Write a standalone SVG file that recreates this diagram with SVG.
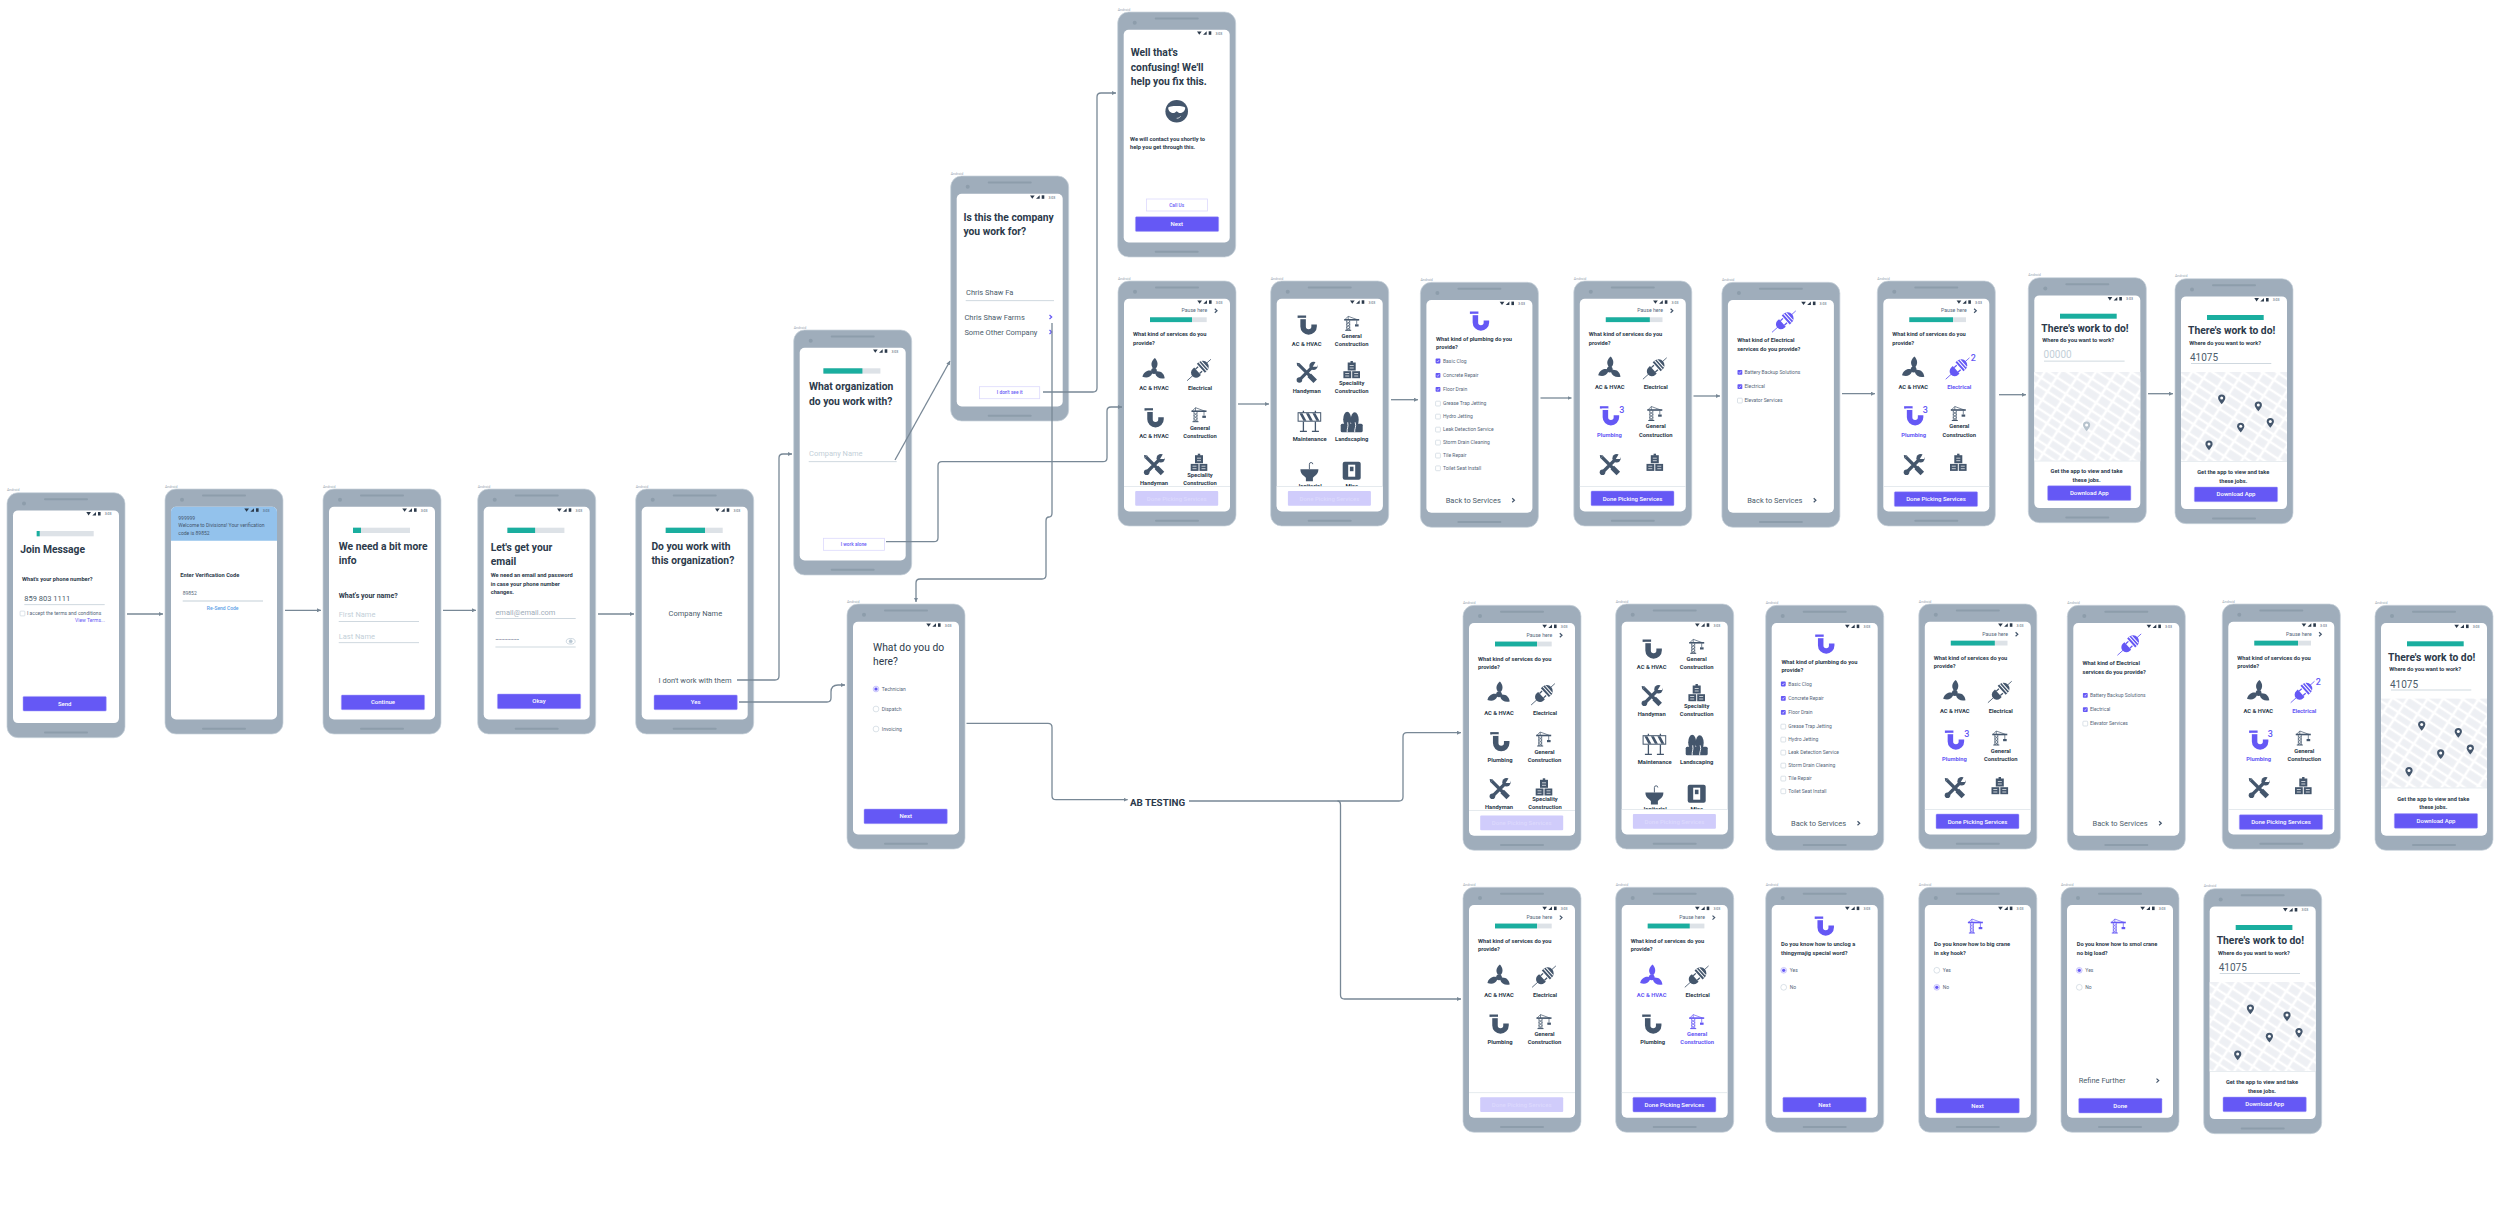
<svg xmlns="http://www.w3.org/2000/svg" width="2500" height="1206" viewBox="0 0 2500 1206">
<style>
text{font-family:Roboto,"Liberation Sans",sans-serif;fill:#2c3a4b}
.c{text-anchor:middle}
.an{font-size:3.6px;fill:#9aa8b4}
.tm{font-size:3.6px;fill:#44566c}
.t{font-size:10.3px;font-weight:700}
.q{font-size:5.7px;font-weight:700}
.l{font-size:5.8px;font-weight:700}
.lp{font-size:5.8px;font-weight:700;fill:#6558f5}
.i{font-size:7.5px;fill:#4b5c6b}
.ph{font-size:7.5px;fill:#c3cfd8}
.s{font-size:5px;fill:#56677a}
.sm{font-size:5.2px;fill:#56677a}
.lk{font-size:5px;fill:#6558f5}
.b{font-size:6px;font-weight:500;fill:#fff}
.bd{font-size:6px;font-weight:500;fill:#dcd9fd}
.o{font-size:4.8px;font-weight:500;fill:#6558f5}
.n{font-size:9px;font-weight:500;fill:#6558f5}
.bz{fill:#9fadbb;stroke:#c9d3db;stroke-width:.7}
.sp{fill:#8d9dab}
.bar{fill:#dde2e7}
.fil{fill:#1aae9f}
.ul{fill:#c3cfd8}
.btn{fill:#6558f5;stroke:#aaa4f9;stroke-width:.5}
.dis{fill:#d0ccfb}
.out{fill:#fff;stroke:#dcd9fd;stroke-width:.8}
.sep{fill:#fff}
.sl{fill:#dfe5ea}
.dk{color:#44566c}
.pu{color:#6558f5}
.cn{fill:none;stroke:#788896;stroke-width:1.3;marker-end:url(#ah)}
</style>
<defs>
<marker id="ah" markerUnits="userSpaceOnUse" markerWidth="4" markerHeight="4" refX="4" refY="2" orient="auto"><path d="M0,0L4,2L0,4Z" fill="#788896"/></marker>
<pattern id="roads" patternUnits="userSpaceOnUse" width="30" height="27" patternTransform="rotate(33)"><rect width="30" height="27" fill="#eef0f4"/><path d="M5,0V27M18,0V27M0,4H30M0,14H30M0,23H30" stroke="#fff" stroke-width="2.6"/></pattern>
<g id="frame"><rect class="bz" width="118" height="245" rx="11"/><rect class="sp" x="37" y="5.5" width="44" height="2" rx="1"/><rect class="sp" x="37" y="238.7" width="44" height="2" rx="1"/><circle class="sp" cx="17" cy="10.7" r="2"/><rect x="6" y="17.7" width="106" height="212.7" rx="5" fill="#fff"/></g>
<g id="st" fill="#2c3a4b"><path d="M79.3,19.4H84L81.6,22.8Z"/><path d="M85.3,22.8L89,19.3V22.8Z"/><rect x="91" y="19.3" width="2.6" height="3.5"/></g>
<path id="chev" d="M-1.2,-2L1,0L-1.2,2" fill="none" stroke="currentColor" stroke-width="1.2"/>
<g id="fan" fill="currentColor"><g transform="scale(1.12)"><circle r="2.6"/><path id="bl" d="M-1,-2.2C-3.4,-6-2.2,-9 .8,-11.5C3.6,-8.5 4,-4.8 1.4,-2Z"/><use href="#bl" transform="rotate(120)"/><use href="#bl" transform="rotate(240)"/></g></g>
<g id="plug" fill="currentColor"><g transform="rotate(-42)"><path d="M-16,0H-8M9,0H16" stroke="currentColor" stroke-width=".8"/><path d="M-2,-5V5H-4A5,5 0 0 1-4,-5Z"/><path d="M-2,-3H1.5M-2,3H1.5" stroke="currentColor" stroke-width="1.3"/><path d="M2.5,-6H5A6,6 0 0 1 5,6H2.5Z"/><path d="M5,-6V6M7.6,-5V5" stroke="#fff" stroke-width="1"/></g></g>
<g id="pipe"><path d="M-4,-6V1.5a5.5,5.5 0 0 0 11,0V-.5" fill="none" stroke="currentColor" stroke-width="5.5"/><rect x="-9.5" y="-9.5" width="8.5" height="2.4" fill="currentColor"/><rect x="-7.5" y="-7.1" width="6.5" height="1.3" fill="#fff"/></g>
<g id="crane" fill="none" stroke="currentColor" stroke-width=".7"><path d="M-5,-3V7M-2,-3V7M-5,-2L-2,1M-2,-2L-5,1M-5,1L-2,4M-2,1L-5,4M-5,4L-2,7M-2,4L-5,7"/><path d="M-6.5,7H-.5" stroke-width="1"/><path d="M-7.5,-3.5H7.5" stroke-width="1.6"/><path d="M-3.5,-3.5V-7M-3.5,-7L6,-3.5M-3.5,-7L-7,-3.5M5,-3V1"/><rect x="3.3" y="1" width="3.6" height="2.2" fill="currentColor" stroke="none"/></g>
<g id="tools" fill="currentColor" stroke="none"><path d="M-8,-8L8,8M7,-7L-7,7" stroke="currentColor" stroke-width="3.2"/><path d="M2.5,2.5L8.5,8.5" stroke="currentColor" stroke-width="5"/><path d="M-10,-10L-6.5,-9.5L-9.5,-6.5Z"/><circle cx="6.8" cy="-6.8" r="4.2"/><path d="M6,-6L9,-11H12L10.5,-6Z" fill="#fff"/><circle cx="-7.3" cy="7.3" r="2.8"/></g>
<g id="blocks" fill="currentColor"><rect x="-4" y="-7.5" width="8" height="8"/><rect x="-1.2" y="-9" width="2.4" height="2"/><rect x="-8.3" y="1.2" width="7.8" height="7"/><rect x=".5" y="1.2" width="7.8" height="7"/><path d="M-2,-4.5H2M-2,-2H2M-6.5,3.5H-2.5M-6.5,6H-2.5M2.5,3.5H6.5M2.5,6H6.5" stroke="#fff" stroke-width=".7"/></g>
<g id="barrier"><rect x="-11.3" y="-9" width="22.6" height="8.5" fill="#fff" stroke="currentColor" stroke-width="1"/><path d="M-10,-8.5h3l4,7.5h-3ZM-3.5,-8.5h3l4,7.5h-3ZM3,-8.5h3l4,7.5h-3Z" fill="currentColor"/><path d="M-6,0V9.5M6,0V9.5M-6,-9V-11M6,-9V-11" stroke="currentColor" stroke-width="1.3"/><path d="M-9.5,9.7H-2.5M2.5,9.7H9.5" stroke="currentColor" stroke-width="1.2"/></g>
<g id="land" fill="currentColor"><ellipse cx="-4.5" cy="-3" rx="4" ry="7.5"/><ellipse cx="3" cy="-2.5" rx="4" ry="7.5"/><rect x="-11" y="1.5" width="22" height="8.5" rx="1.5"/><path d="M-4.5,10C-5,6 -3,5 -4,0M3,10C2.5,6 5,5 3.5,0" fill="none" stroke="#fff" stroke-width=".9"/></g>
<g id="sink"><path d="M-9,-2.5H9C9,3 4.5,4.5 3.5,6V9.5H-3.5V6C-4.5,4.5 -9,3 -9,-2.5Z" fill="currentColor"/><path d="M0,-2.5V-7.5a1.7,1.7 0 0 1 3.4,0" fill="none" stroke="currentColor" stroke-width=".9"/></g>
<g id="switch"><rect x="-9" y="-9" width="18" height="18" rx="2" fill="currentColor"/><rect x="-3.5" y="-6" width="7" height="12" fill="#fff"/><rect x="-1.8" y="-4" width="3.6" height="4.5" fill="currentColor"/></g>
<g id="goggle"><circle r="11.3" fill="currentColor"/><path d="M-8.5,-3.5C-8.5,-6 8.5,-6 8.5,-3.5C8.5,1 4,2.5 2,1.5L0,0L-2,1.5C-4,2.5 -8.5,1 -8.5,-3.5Z" fill="#fff"/><path d="M0,7C2,7 3,6 4,5" fill="none" stroke="#fff" stroke-width=".7"/></g>
<g id="pin"><path d="M0,4.8C-2.5,1.8 -3.6,.2 -3.6,-1.4a3.6,3.6 0 0 1 7.2,0C3.6,.2 2.5,1.8 0,4.8Z" fill="currentColor"/><circle cy="-1.4" r="1.5" fill="#fff"/></g>
<g id="eye" fill="none" stroke="#b9c7d3" stroke-width=".7"><ellipse rx="4.4" ry="2.8"/><circle r="1.5" fill="#b9c7d3"/></g>
<g id="ck"><rect x="-2.4" y="-2.4" width="4.8" height="4.8" rx=".8" fill="#6558f5"/><path d="M-1,.2L-.3,1L1.1,-1" fill="none" stroke="#fff" stroke-width=".6"/></g>
<rect id="uk" x="-2.4" y="-2.4" width="4.8" height="4.8" rx=".8" fill="#fff" stroke="#c3cfd8" stroke-width=".6"/>
<g id="ro"><circle r="2.9" fill="#e8e6fe" stroke="#aaa4f9" stroke-width=".5"/><circle r="1.6" fill="#6558f5"/></g>
<circle id="ru" r="2.9" fill="#fff" stroke="#c3cfd8" stroke-width=".6"/>
</defs>

<rect width="2500" height="1206" fill="#fff"/>

<g id="p01" transform="translate(7 492.7)"><use href="#frame"/><use href="#st"/><text class="an" y="-1.5">Android</text><text class="tm" x="97.7" y="22.7">3:03</text>
<rect class="bar" x="29.7" y="38.3" width="57" height="5.3"/><rect class="fil" x="29.7" y="38.3" width="3" height="5.3"/>
<text class="t" x="13.3" y="60.7">Join Message</text><text class="q" x="15" y="88">What's your phone number?</text><text class="i" x="17.3" y="108">859 803 1111</text><rect class="ul" x="17.3" y="111.6" width="80.4" height=".8"/><use href="#uk" x="15.5" y="120.8"/><text class="s" x="20" y="122">I accept the terms and conditions</text><text class="lk" x="68" y="129.3">View Terms...</text>
<rect class="btn" x="16" y="203.7" width="83.3" height="14.7" rx="1"/><text class="b c" x="57.7" y="213">Send</text></g>

<g id="p02" transform="translate(165 489)"><use href="#frame"/><path d="M6,51.7V22.7a5,5 0 0 1 5,-5H107a5,5 0 0 1 5,5V51.7Z" fill="#93c2ec"/><use href="#st"/><text class="an" y="-1.5">Android</text><text class="tm" x="97.7" y="22.7">3:03</text>
<text class="s" x="13.3" y="31" style="fill:#44566c">999999</text><text class="s" x="13.3" y="38.3" style="fill:#44566c">Welcome to Divisions! Your verification</text><text class="s" x="13.3" y="45.7" style="fill:#44566c">code is 89852</text>
<text class="q" x="15.3" y="88">Enter Verification Code</text><text class="s" x="17.7" y="106.3">89852</text><rect class="ul" x="17.7" y="111.5" width="80.3" height="1"/><text class="s c" x="57.7" y="121.3" style="fill:#5aa0e6;font-weight:500">Re-Send Code</text></g>

<g id="p03" transform="translate(323 489)"><use href="#frame"/><use href="#st"/><text class="an" y="-1.5">Android</text><text class="tm" x="97.7" y="22.7">3:03</text>
<rect class="bar" x="30" y="38.7" width="57" height="5.3"/><rect class="fil" x="30" y="38.7" width="8" height="5.3"/>
<text class="t" x="15.7" y="60.7">We need a bit more</text><text class="t" x="15.7" y="74.7">info</text><text class="q" x="15.7" y="108.7" style="font-size:7px">What's your name?</text>
<text class="ph" x="15.7" y="128.3">First Name</text><rect class="ul" x="15.7" y="132" width="80.3" height=".8"/><text class="ph" x="15.7" y="149.7">Last Name</text><rect class="ul" x="15.7" y="153.3" width="80.3" height=".8"/>
<rect class="btn" x="18.3" y="206" width="83.3" height="14.7" rx="1"/><text class="b c" x="60" y="215.3">Continue</text></g>

<g id="p04" transform="translate(477.7 489)"><use href="#frame"/><use href="#st"/><text class="an" y="-1.5">Android</text><text class="tm" x="97.7" y="22.7">3:03</text>
<rect class="bar" x="29.7" y="38.7" width="57" height="5.3"/><rect class="fil" x="29.7" y="38.7" width="27.7" height="5.3"/>
<text class="t" x="13" y="62.3">Let's get your</text><text class="t" x="13" y="76.3">email</text><text class="q" x="13" y="88.3">We need an email and password</text><text class="q" x="13" y="96.7">in case your phone number</text><text class="q" x="13" y="105.3">changes.</text>
<text class="i" x="17.7" y="126" style="fill:#9fadb9">email@email.com</text><rect class="ul" x="17.7" y="129" width="80.3" height=".8"/><text x="17.7" y="151.7" style="font-size:4.4px;fill:#44566c">••••••••••••••••</text><rect class="ul" x="17.7" y="157.6" width="80.3" height=".8"/><use href="#eye" x="93" y="152.3"/>
<rect class="btn" x="19.7" y="205" width="83.3" height="14.7" rx="1"/><text class="b c" x="61.3" y="214.3">Okay</text></g>

<g id="p05" transform="translate(635.7 489)"><use href="#frame"/><use href="#st"/><text class="an" y="-1.5">Android</text><text class="tm" x="97.7" y="22.7">3:03</text>
<rect class="bar" x="30" y="38.7" width="57" height="5.3"/><rect class="fil" x="30" y="38.7" width="39.3" height="5.3"/>
<text class="t" x="15.7" y="60.7">Do you work with</text><text class="t" x="15.7" y="74.7">this organization?</text><text class="i c" x="59.7" y="126.7">Company Name</text><text class="i c" x="59.3" y="194.3">I don't work with them</text>
<rect class="btn" x="18.3" y="206" width="83.3" height="14.7" rx="1"/><text class="b c" x="60" y="215.3">Yes</text></g>

<g id="p06" transform="translate(793.7 330)"><use href="#frame"/><use href="#st"/><text class="an" y="-1.5">Android</text><text class="tm" x="97.7" y="22.7">3:03</text>
<rect class="bar" x="29.7" y="38.3" width="57" height="5.3"/><rect class="fil" x="29.7" y="38.3" width="39" height="5.3"/>
<text class="t" x="15.3" y="60.3">What organization</text><text class="t" x="15.3" y="74.5">do you work with?</text><text class="ph" x="15.3" y="126.3">Company Name</text><rect class="ul" x="15" y="131.3" width="88" height=".8"/>
<rect class="out" x="29.7" y="208.3" width="61" height="12"/><text class="o c" x="60" y="215.9">I work alone</text></g>

<g id="p07" transform="translate(950.7 176)"><use href="#frame"/><use href="#st"/><text class="an" y="-1.5">Android</text><text class="tm" x="97.7" y="22.7">3:03</text>
<text class="t" x="12.7" y="44.7">Is this the company</text><text class="t" x="12.7" y="58.7">you work for?</text><text class="i" x="15.3" y="119.3">Chris Shaw Fa</text><rect class="ul" x="15" y="124.3" width="88.3" height=".8"/>
<text class="i" x="13.7" y="143.7">Chris Shaw Farms</text><use href="#chev" x="100" y="141" class="pu"/><text class="i" x="13.7" y="158.7">Some Other Company</text><use href="#chev" x="100" y="156" class="pu"/>
<rect class="out" x="28.7" y="210.7" width="60.3" height="12"/><text class="o c" x="59" y="218.3">I don't see it</text></g>

<g id="p08" transform="translate(1117.7 12)"><use href="#frame"/><use href="#st"/><text class="an" y="-1.5">Android</text><text class="tm" x="97.7" y="22.7">3:03</text>
<text class="t" x="13" y="44.3">Well that's</text><text class="t" x="13" y="58.5">confusing! We'll</text><text class="t" x="13" y="73">help you fix this.</text><use href="#goggle" x="59" y="99.3" class="dk"/>
<text class="q" x="12.3" y="128.7">We will contact you shortly to</text><text class="q" x="12.3" y="137">help you get through this.</text>
<rect class="out" x="28.7" y="187" width="61" height="12"/><text class="o c" x="59" y="194.9">Call Us</text><rect class="btn" x="17.7" y="204.7" width="83.3" height="14.7" rx="1"/><text class="b c" x="59" y="214">Next</text></g>

<g id="p09" transform="translate(1118 281)"><use href="#frame"/><use href="#st"/><text class="an" y="-1.5">Android</text><text class="tm" x="97.7" y="22.7">3:03</text>
<text class="sm" x="63.5" y="31.3">Pause here</text><use href="#chev" x="98" y="29.7" class="dk"/><rect class="bar" x="32" y="36.3" width="56.7" height="4.8"/><rect class="fil" x="32" y="36.3" width="42" height="4.8"/>
<text class="q" x="15" y="55.3">What kind of services do you</text><text class="q" x="15" y="63.7">provide?</text>
<use href="#fan" x="36" y="90" class="dk"/><use href="#plug" x="81" y="89" class="dk"/><text class="l c" x="36" y="109.3">AC &amp; HVAC</text><text class="l c" x="82" y="109.3">Electrical</text>
<use href="#pipe" x="36" y="136.7" class="dk"/><use href="#crane" x="81" y="133.7" class="dk"/><text class="l c" x="36" y="156.7">AC &amp; HVAC</text><text class="l c" x="82" y="148.7">General</text><text class="l c" x="82" y="157">Construction</text>
<use href="#tools" x="36" y="184" class="dk"/><use href="#blocks" x="81" y="181.7" class="dk"/><text class="l c" x="36" y="204">Handyman</text><text class="l c" x="82" y="195.7">Speciality</text><text class="l c" x="82" y="204">Construction</text>
<rect class="sep" x="6" y="205.5" width="106" height="20"/><rect class="sl" x="6" y="205.2" width="106" height=".8"/><rect class="dis" x="17.2" y="210" width="83" height="14.7" rx="1"/><text class="bd c" x="58.7" y="219.5">Done Picking Services</text></g>

<g id="p10" transform="translate(1270.7 281)"><use href="#frame"/><use href="#st"/><text class="an" y="-1.5">Android</text><text class="tm" x="97.7" y="22.7">3:03</text>
<use href="#pipe" x="36.4" y="44" class="dk"/><use href="#crane" x="81" y="42.3" class="dk"/><text class="l c" x="36" y="64.7">AC &amp; HVAC</text><text class="l c" x="81" y="56.7">General</text><text class="l c" x="81" y="65">Construction</text>
<use href="#tools" x="36" y="91.7" class="dk"/><use href="#blocks" x="81" y="89" class="dk"/><text class="l c" x="36" y="112">Handyman</text><text class="l c" x="81" y="103.7">Speciality</text><text class="l c" x="81" y="112">Construction</text>
<use href="#barrier" x="38.7" y="140.7" class="dk"/><use href="#land" x="81" y="141.3" class="dk"/><text class="l c" x="39" y="159.7">Maintenance</text><text class="l c" x="81" y="159.7">Landscaping</text>
<use href="#sink" x="38.7" y="190.7" class="dk"/><use href="#switch" x="81" y="189.7" class="dk"/><text class="l c" x="38.7" y="207">Janitorial</text><text class="l c" x="81" y="207">Misc</text>
<rect class="sep" x="6" y="205.5" width="106" height="20"/><rect class="sl" x="6" y="205.2" width="106" height=".8"/><rect class="dis" x="17.2" y="210" width="83" height="14.7" rx="1"/><text class="bd c" x="58.7" y="219.5">Done Picking Services</text></g>

<g id="p11" transform="translate(1420.4 282.3)"><use href="#frame"/><use href="#st"/><text class="an" y="-1.5">Android</text><text class="tm" x="97.7" y="22.7">3:03</text>
<use href="#pipe" x="59" y="38.7" class="pu"/><text class="q" x="15.7" y="58.7">What kind of plumbing do you</text><text class="q" x="15.7" y="67">provide?</text>
<use href="#ck" x="17.6" y="78.7"/><text class="s" x="22.6" y="80.4">Basic Clog</text><use href="#ck" x="17.6" y="93"/><text class="s" x="22.6" y="94.7">Concrete Repair</text><use href="#ck" x="17.6" y="107"/><text class="s" x="22.6" y="108.7">Floor Drain</text><use href="#uk" x="17.6" y="121.3"/><text class="s" x="22.6" y="123">Grease Trap Jetting</text><use href="#uk" x="17.6" y="134.3"/><text class="s" x="22.6" y="136">Hydro Jetting</text><use href="#uk" x="17.6" y="147.3"/><text class="s" x="22.6" y="149">Leak Detection Service</text><use href="#uk" x="17.6" y="160.3"/><text class="s" x="22.6" y="162">Storm Drain Cleaning</text><use href="#uk" x="17.6" y="173.3"/><text class="s" x="22.6" y="175">Tile Repair</text><use href="#uk" x="17.6" y="186"/><text class="s" x="22.6" y="187.7">Toilet Seat Install</text>
<text class="i" x="25.3" y="220.7">Back to Services</text><use href="#chev" x="93" y="218" class="dk"/></g>

<g id="p12" transform="translate(1573.8 281)"><use href="#frame"/><use href="#st"/><text class="an" y="-1.5">Android</text><text class="tm" x="97.7" y="22.7">3:03</text>
<text class="sm" x="63.5" y="31.3">Pause here</text><use href="#chev" x="98" y="29.7" class="dk"/><rect class="bar" x="32" y="36.3" width="56.7" height="4.8"/><rect class="fil" x="32" y="36.3" width="44" height="4.8"/>
<text class="q" x="15" y="55.3">What kind of services do you</text><text class="q" x="15" y="63.7">provide?</text>
<use href="#fan" x="36" y="88.5" class="dk"/><use href="#plug" x="81" y="87.5" class="dk"/><text class="l c" x="36" y="108">AC &amp; HVAC</text><text class="l c" x="82" y="108">Electrical</text>
<use href="#pipe" x="35.6" y="134.7" class="pu"/><text class="n" x="45.5" y="131.7">3</text><use href="#crane" x="81" y="132.5" class="dk"/><text class="lp c" x="35.6" y="155.7">Plumbing</text><text class="l c" x="82" y="147.3">General</text><text class="l c" x="82" y="155.7">Construction</text>
<use href="#tools" x="36" y="184" class="dk"/><use href="#blocks" x="81" y="181.7" class="dk"/>
<rect class="sl" x="6" y="205.2" width="106" height=".8"/><rect class="btn" x="17.2" y="210" width="83" height="14.7" rx="1"/><text class="b c" x="58.7" y="219.5">Done Picking Services</text></g>

<g id="p13" transform="translate(1721.9 282.3)"><use href="#frame"/><use href="#st"/><text class="an" y="-1.5">Android</text><text class="tm" x="97.7" y="22.7">3:03</text>
<use href="#plug" x="62" y="39.3" class="pu"/><text class="q" x="15.3" y="60">What kind of Electrical</text><text class="q" x="15.3" y="68.3">services do you provide?</text>
<use href="#ck" x="18" y="90"/><text class="s" x="22.6" y="91.7">Battery Backup Solutions</text><use href="#ck" x="18" y="104.3"/><text class="s" x="22.6" y="106">Electrical</text><use href="#uk" x="18" y="118.3"/><text class="s" x="22.6" y="120">Elevator Services</text>
<text class="i" x="25.3" y="220.7">Back to Services</text><use href="#chev" x="93" y="218" class="dk"/></g>

<g id="p14" transform="translate(1877.3 281)"><use href="#frame"/><use href="#st"/><text class="an" y="-1.5">Android</text><text class="tm" x="97.7" y="22.7">3:03</text>
<text class="sm" x="63.7" y="31.3">Pause here</text><use href="#chev" x="98" y="29.7" class="dk"/><rect class="bar" x="32" y="36.3" width="56.7" height="4.8"/><rect class="fil" x="32" y="36.3" width="43.7" height="4.8"/>
<text class="q" x="15" y="55.3">What kind of services do you</text><text class="q" x="15" y="63.7">provide?</text>
<use href="#fan" x="36.3" y="88.5" class="dk"/><use href="#plug" x="80.3" y="87.5" class="pu"/><text class="n" x="93.5" y="80.3">2</text><text class="l c" x="36" y="108">AC &amp; HVAC</text><text class="lp c" x="82" y="108">Electrical</text>
<use href="#pipe" x="36.3" y="134.7" class="pu"/><text class="n" x="45.5" y="132.3">3</text><use href="#crane" x="81" y="132.5" class="dk"/><text class="lp c" x="36.3" y="155.7">Plumbing</text><text class="l c" x="82" y="147.3">General</text><text class="l c" x="82" y="155.7">Construction</text>
<use href="#tools" x="36.5" y="184" class="dk"/><use href="#blocks" x="81" y="181.7" class="dk"/>
<rect class="sl" x="6" y="205.2" width="106" height=".8"/><rect class="btn" x="17" y="210.7" width="83.3" height="14.7" rx="1"/><text class="b c" x="58.7" y="220.2">Done Picking Services</text></g>

<g id="p15" transform="translate(2028.3 277.7)"><use href="#frame"/><use href="#st"/><text class="an" y="-1.5">Android</text><text class="tm" x="97.7" y="22.7">3:03</text>
<rect class="fil" x="31.7" y="36" width="56.7" height="5"/><text class="t" x="13" y="54.7">There's work to do!</text><text class="q" x="14" y="64.7">Where do you want to work?</text><text class="ph" x="15.3" y="80.7" style="font-size:10px">00000</text><rect class="ul" x="15.7" y="83" width="80.6" height=".8"/>
<rect x="6" y="94.3" width="106" height="88.7" fill="url(#roads)"/><use href="#pin" x="58.3" y="148.7" style="color:#b7c3cd"/><rect class="sl" x="6" y="183" width="106" height=".7"/>
<text class="q c" x="58.3" y="195.7">Get the app to view and take</text><text class="q c" x="58.3" y="204">these jobs.</text><rect class="btn" x="19.3" y="208" width="83.3" height="14.7" rx="1"/><text class="b c" x="61" y="217.3">Download App</text></g>

<g id="p16" transform="translate(2175 278.7)"><use href="#frame"/><use href="#st"/><text class="an" y="-1.5">Android</text><text class="tm" x="97.7" y="22.7">3:03</text>
<rect class="fil" x="32" y="36.3" width="56.7" height="5"/><text class="t" x="13" y="55.7">There's work to do!</text><text class="q" x="14.3" y="66">Where do you want to work?</text><text class="i" x="15" y="82.3" style="font-size:10px">41075</text><rect class="ul" x="16" y="84.3" width="80.3" height=".8"/>
<rect x="6" y="93.3" width="106" height="89" fill="url(#roads)"/><use href="#pin" x="46.7" y="120.7" class="dk"/><use href="#pin" x="83.3" y="127.7" class="dk"/><use href="#pin" x="65.7" y="149" class="dk"/><use href="#pin" x="95.3" y="144.3" class="dk"/><use href="#pin" x="34" y="166.7" class="dk"/><rect class="sl" x="6" y="182.3" width="106" height=".7"/>
<text class="q c" x="58.3" y="195.7">Get the app to view and take</text><text class="q c" x="58.3" y="204">these jobs.</text><rect class="btn" x="19.3" y="208.3" width="83.3" height="14.7" rx="1"/><text class="b c" x="61" y="217.6">Download App</text></g>

<g id="p17" transform="translate(847 604)"><use href="#frame"/><use href="#st"/><text class="an" y="-1.5">Android</text><text class="tm" x="97.7" y="22.7">3:03</text>
<text class="t" x="26" y="47.3" style="font-weight:400">What do you do</text><text class="t" x="26" y="61.3" style="font-weight:400">here?</text>
<use href="#ro" x="29" y="85"/><text class="s" x="34.8" y="86.8">Technician</text><use href="#ru" x="29" y="105"/><text class="s" x="34.8" y="106.8">Dispatch</text><use href="#ru" x="29" y="125"/><text class="s" x="34.8" y="126.8">Invoicing</text>
<rect class="btn" x="17" y="205" width="83.3" height="14.7" rx="1"/><text class="b c" x="58.7" y="214.3">Next</text></g>

<g id="p18" transform="translate(1463 605.3)"><use href="#frame"/><use href="#st"/><text class="an" y="-1.5">Android</text><text class="tm" x="97.7" y="22.7">3:03</text>
<text class="sm" x="63.5" y="31.7">Pause here</text><use href="#chev" x="98" y="30" class="dk"/><rect class="bar" x="32" y="36.3" width="56.7" height="4.8"/><rect class="fil" x="32" y="36.3" width="42" height="4.8"/>
<text class="q" x="15" y="55.3">What kind of services do you</text><text class="q" x="15" y="63.7">provide?</text>
<use href="#fan" x="36" y="89" class="dk"/><use href="#plug" x="80" y="89" class="dk"/><text class="l c" x="36" y="109.7">AC &amp; HVAC</text><text class="l c" x="82" y="109.7">Electrical</text>
<use href="#pipe" x="36.7" y="136.3" class="dk"/><use href="#crane" x="80.7" y="133.7" class="dk"/><text class="l c" x="37" y="157">Plumbing</text><text class="l c" x="81.5" y="148.7">General</text><text class="l c" x="81.5" y="157">Construction</text>
<use href="#tools" x="36.7" y="183.7" class="dk"/><use href="#blocks" x="81" y="182" class="dk"/><text class="l c" x="36" y="204">Handyman</text><text class="l c" x="82" y="195.7">Speciality</text><text class="l c" x="82" y="204">Construction</text>
<rect class="sep" x="6" y="205" width="106" height="20"/><rect class="sl" x="6" y="204.7" width="106" height=".8"/><rect class="dis" x="17.2" y="210.3" width="83" height="14.7" rx="1"/><text class="bd c" x="58.7" y="219.8">Done Picking Services</text></g>

<g id="p19" transform="translate(1615.7 604)"><use href="#frame"/><use href="#st"/><text class="an" y="-1.5">Android</text><text class="tm" x="97.7" y="22.7">3:03</text>
<use href="#pipe" x="36.4" y="45" class="dk"/><use href="#crane" x="81" y="42.3" class="dk"/><text class="l c" x="36" y="65">AC &amp; HVAC</text><text class="l c" x="81" y="57">General</text><text class="l c" x="81" y="65.3">Construction</text>
<use href="#tools" x="36" y="92" class="dk"/><use href="#blocks" x="81" y="89" class="dk"/><text class="l c" x="36" y="112">Handyman</text><text class="l c" x="81" y="103.7">Speciality</text><text class="l c" x="81" y="112">Construction</text>
<use href="#barrier" x="38.7" y="140.7" class="dk"/><use href="#land" x="81" y="141.3" class="dk"/><text class="l c" x="39" y="159.7">Maintenance</text><text class="l c" x="81" y="159.7">Landscaping</text>
<use href="#sink" x="38.7" y="191" class="dk"/><use href="#switch" x="81" y="189.7" class="dk"/><text class="l c" x="38.7" y="207">Janitorial</text><text class="l c" x="81" y="207">Misc</text>
<rect class="sep" x="6" y="205.5" width="106" height="20"/><rect class="sl" x="6" y="205.2" width="106" height=".8"/><rect class="dis" x="17.2" y="210" width="83" height="14.7" rx="1"/><text class="bd c" x="58.7" y="219.5">Done Picking Services</text></g>

<g id="p20" transform="translate(1765.7 605.3)"><use href="#frame"/><use href="#st"/><text class="an" y="-1.5">Android</text><text class="tm" x="97.7" y="22.7">3:03</text>
<use href="#pipe" x="59" y="38.7" class="pu"/><text class="q" x="15.7" y="58.7">What kind of plumbing do you</text><text class="q" x="15.7" y="67">provide?</text>
<use href="#ck" x="17.6" y="78.7"/><text class="s" x="22.6" y="80.4">Basic Clog</text><use href="#ck" x="17.6" y="93"/><text class="s" x="22.6" y="94.7">Concrete Repair</text><use href="#ck" x="17.6" y="107"/><text class="s" x="22.6" y="108.7">Floor Drain</text><use href="#uk" x="17.6" y="121.3"/><text class="s" x="22.6" y="123">Grease Trap Jetting</text><use href="#uk" x="17.6" y="134.3"/><text class="s" x="22.6" y="136">Hydro Jetting</text><use href="#uk" x="17.6" y="147.3"/><text class="s" x="22.6" y="149">Leak Detection Service</text><use href="#uk" x="17.6" y="160.3"/><text class="s" x="22.6" y="162">Storm Drain Cleaning</text><use href="#uk" x="17.6" y="173.3"/><text class="s" x="22.6" y="175">Tile Repair</text><use href="#uk" x="17.6" y="186"/><text class="s" x="22.6" y="187.7">Toilet Seat Install</text>
<text class="i" x="25.3" y="220.7">Back to Services</text><use href="#chev" x="93" y="218" class="dk"/></g>

<g id="p21" transform="translate(1918.8 604)"><use href="#frame"/><use href="#st"/><text class="an" y="-1.5">Android</text><text class="tm" x="97.7" y="22.7">3:03</text>
<text class="sm" x="63.5" y="32">Pause here</text><use href="#chev" x="98" y="30.3" class="dk"/><rect class="bar" x="32" y="36.7" width="56.7" height="4.8"/><rect class="fil" x="32" y="36.7" width="44" height="4.8"/>
<text class="q" x="15" y="55.5">What kind of services do you</text><text class="q" x="15" y="63.9">provide?</text>
<use href="#fan" x="36" y="89" class="dk"/><use href="#plug" x="81" y="88" class="dk"/><text class="l c" x="36" y="108.7">AC &amp; HVAC</text><text class="l c" x="82" y="108.7">Electrical</text>
<use href="#pipe" x="35.6" y="136" class="pu"/><text class="n" x="45.5" y="132.5">3</text><use href="#crane" x="81" y="134" class="dk"/><text class="lp c" x="35.6" y="157">Plumbing</text><text class="l c" x="82" y="148.7">General</text><text class="l c" x="82" y="157">Construction</text>
<use href="#tools" x="36" y="184" class="dk"/><use href="#blocks" x="81" y="182" class="dk"/>
<rect class="sl" x="6" y="205.2" width="106" height=".8"/><rect class="btn" x="17.2" y="210" width="83" height="14.7" rx="1"/><text class="b c" x="58.7" y="219.5">Done Picking Services</text></g>

<g id="p22" transform="translate(2067.3 605.3)"><use href="#frame"/><use href="#st"/><text class="an" y="-1.5">Android</text><text class="tm" x="97.7" y="22.7">3:03</text>
<use href="#plug" x="62" y="39.3" class="pu"/><text class="q" x="15.3" y="60">What kind of Electrical</text><text class="q" x="15.3" y="68.3">services do you provide?</text>
<use href="#ck" x="18" y="90"/><text class="s" x="22.6" y="91.7">Battery Backup Solutions</text><use href="#ck" x="18" y="104.3"/><text class="s" x="22.6" y="106">Electrical</text><use href="#uk" x="18" y="118.3"/><text class="s" x="22.6" y="120">Elevator Services</text>
<text class="i" x="25.3" y="220.7">Back to Services</text><use href="#chev" x="93" y="218" class="dk"/></g>

<g id="p23" transform="translate(2222.3 604)"><use href="#frame"/><use href="#st"/><text class="an" y="-1.5">Android</text><text class="tm" x="97.7" y="22.7">3:03</text>
<text class="sm" x="63.7" y="32">Pause here</text><use href="#chev" x="98" y="30.3" class="dk"/><rect class="bar" x="32" y="36.7" width="56.7" height="4.8"/><rect class="fil" x="32" y="36.7" width="43.7" height="4.8"/>
<text class="q" x="15" y="55.5">What kind of services do you</text><text class="q" x="15" y="63.9">provide?</text>
<use href="#fan" x="36.3" y="89" class="dk"/><use href="#plug" x="80.3" y="88" class="pu"/><text class="n" x="93.5" y="81">2</text><text class="l c" x="36" y="108.7">AC &amp; HVAC</text><text class="lp c" x="82" y="108.7">Electrical</text>
<use href="#pipe" x="36.3" y="136" class="pu"/><text class="n" x="45.5" y="132.5">3</text><use href="#crane" x="81" y="134" class="dk"/><text class="lp c" x="36.3" y="157">Plumbing</text><text class="l c" x="82" y="148.7">General</text><text class="l c" x="82" y="157">Construction</text>
<use href="#tools" x="36.5" y="184" class="dk"/><use href="#blocks" x="81" y="182" class="dk"/>
<rect class="sl" x="6" y="205.2" width="106" height=".8"/><rect class="btn" x="17" y="210.7" width="83.3" height="14.7" rx="1"/><text class="b c" x="58.7" y="220.2">Done Picking Services</text></g>

<g id="p24" transform="translate(2375 605.3)"><use href="#frame"/><use href="#st"/><text class="an" y="-1.5">Android</text><text class="tm" x="97.7" y="22.7">3:03</text>
<rect class="fil" x="32" y="36" width="56.7" height="5"/><text class="t" x="13" y="55.7">There's work to do!</text><text class="q" x="14.3" y="66">Where do you want to work?</text><text class="i" x="15" y="82.3" style="font-size:10px">41075</text><rect class="ul" x="16" y="84.3" width="80.3" height=".8"/>
<rect x="6" y="93.3" width="106" height="89" fill="url(#roads)"/><use href="#pin" x="46.7" y="120.7" class="dk"/><use href="#pin" x="83.3" y="127.7" class="dk"/><use href="#pin" x="65.7" y="149" class="dk"/><use href="#pin" x="95.3" y="144.3" class="dk"/><use href="#pin" x="34" y="166.7" class="dk"/><rect class="sl" x="6" y="182.3" width="106" height=".7"/>
<text class="q c" x="58.3" y="195.7">Get the app to view and take</text><text class="q c" x="58.3" y="204">these jobs.</text><rect class="btn" x="19.3" y="208.3" width="83.3" height="14.7" rx="1"/><text class="b c" x="61" y="217.6">Download App</text></g>

<g id="p25" transform="translate(1463 887.3)"><use href="#frame"/><use href="#st"/><text class="an" y="-1.5">Android</text><text class="tm" x="97.7" y="22.7">3:03</text>
<text class="sm" x="63.5" y="32">Pause here</text><use href="#chev" x="98" y="30.3" class="dk"/><rect class="bar" x="32" y="36.3" width="56.7" height="4.8"/><rect class="fil" x="32" y="36.3" width="42" height="4.8"/>
<text class="q" x="15" y="55.7">What kind of services do you</text><text class="q" x="15" y="64">provide?</text>
<use href="#fan" x="36" y="90" class="dk"/><use href="#plug" x="81" y="89.3" class="dk"/><text class="l c" x="36" y="109.3">AC &amp; HVAC</text><text class="l c" x="82" y="109.3">Electrical</text>
<use href="#pipe" x="36" y="136.7" class="dk"/><use href="#crane" x="81" y="134.3" class="dk"/><text class="l c" x="37" y="157">Plumbing</text><text class="l c" x="81.5" y="148.7">General</text><text class="l c" x="81.5" y="157">Construction</text>
<rect class="sl" x="6" y="205" width="106" height=".8"/><rect class="dis" x="17.2" y="210" width="83" height="14.7" rx="1"/><text class="bd c" x="58.7" y="219.5">Done Picking Services</text></g>

<g id="p26" transform="translate(1615.7 887.3)"><use href="#frame"/><use href="#st"/><text class="an" y="-1.5">Android</text><text class="tm" x="97.7" y="22.7">3:03</text>
<text class="sm" x="63.5" y="32">Pause here</text><use href="#chev" x="98" y="30.3" class="dk"/><rect class="bar" x="32" y="36.3" width="56.7" height="4.8"/><rect class="fil" x="32" y="36.3" width="42" height="4.8"/>
<text class="q" x="15" y="55.7">What kind of services do you</text><text class="q" x="15" y="64">provide?</text>
<use href="#fan" x="36" y="90" class="pu"/><use href="#plug" x="81" y="89.3" class="dk"/><text class="lp c" x="36" y="109.3">AC &amp; HVAC</text><text class="l c" x="82" y="109.3">Electrical</text>
<use href="#pipe" x="36" y="136.7" class="dk"/><use href="#crane" x="81" y="134.3" class="pu"/><text class="l c" x="37" y="157">Plumbing</text><text class="lp c" x="81.5" y="148.7">General</text><text class="lp c" x="81.5" y="157">Construction</text>
<rect class="sl" x="6" y="205" width="106" height=".8"/><rect class="btn" x="17.2" y="210" width="83" height="14.7" rx="1"/><text class="b c" x="58.7" y="219.5">Done Picking Services</text></g>

<g id="p27" transform="translate(1765.7 887.3)"><use href="#frame"/><use href="#st"/><text class="an" y="-1.5">Android</text><text class="tm" x="97.7" y="22.7">3:03</text>
<use href="#pipe" x="58.5" y="38.7" class="pu"/><text class="q" x="15.3" y="59">Do you know how to unclog a</text><text class="q" x="15.3" y="67.3">thingymajig special word?</text>
<use href="#ro" x="18" y="83"/><text class="s" x="24" y="84.8">Yes</text><use href="#ru" x="18" y="100"/><text class="s" x="24" y="101.8">No</text>
<rect class="btn" x="17.2" y="210" width="83.3" height="14.7" rx="1"/><text class="b c" x="58.7" y="219.3">Next</text></g>

<g id="p28" transform="translate(1918.8 887.3)"><use href="#frame"/><use href="#st"/><text class="an" y="-1.5">Android</text><text class="tm" x="97.7" y="22.7">3:03</text>
<use href="#crane" x="56.6" y="38.7" class="pu"/><text class="q" x="15.3" y="59">Do you know how to big crane</text><text class="q" x="15.3" y="67.3">in sky hook?</text>
<use href="#ru" x="18" y="83"/><text class="s" x="24" y="84.8">Yes</text><use href="#ro" x="18" y="100"/><text class="s" x="24" y="101.8">No</text>
<rect class="btn" x="17.2" y="211" width="83.3" height="14.7" rx="1"/><text class="b c" x="58.7" y="220.3">Next</text></g>

<g id="p29" transform="translate(2061 887.3)"><use href="#frame"/><use href="#st"/><text class="an" y="-1.5">Android</text><text class="tm" x="97.7" y="22.7">3:03</text>
<use href="#crane" x="57.3" y="38.7" class="pu"/><text class="q" x="15.7" y="59">Do you know how to smol crane</text><text class="q" x="15.7" y="67.3">no big load?</text>
<use href="#ro" x="18.3" y="83"/><text class="s" x="24.3" y="84.8">Yes</text><use href="#ru" x="18.3" y="100"/><text class="s" x="24.3" y="101.8">No</text>
<text class="i" x="17.7" y="196">Refine Further</text><use href="#chev" x="96.7" y="193.3" class="dk"/>
<rect class="btn" x="17.7" y="211" width="83.3" height="14.7" rx="1"/><text class="b c" x="59.3" y="220.3">Done</text></g>

<g id="p30" transform="translate(2203.7 888.7)"><use href="#frame"/><use href="#st"/><text class="an" y="-1.5">Android</text><text class="tm" x="97.7" y="22.7">3:03</text>
<rect class="fil" x="32" y="36.3" width="56.7" height="5"/><text class="t" x="13" y="55.7">There's work to do!</text><text class="q" x="14.3" y="66">Where do you want to work?</text><text class="i" x="15" y="82.3" style="font-size:10px">41075</text><rect class="ul" x="16" y="84.3" width="80.3" height=".8"/>
<rect x="6" y="93.3" width="106" height="89" fill="url(#roads)"/><use href="#pin" x="46.7" y="120.7" class="dk"/><use href="#pin" x="83.3" y="127.7" class="dk"/><use href="#pin" x="65.7" y="149" class="dk"/><use href="#pin" x="95.3" y="144.3" class="dk"/><use href="#pin" x="34" y="166.7" class="dk"/><rect class="sl" x="6" y="182.3" width="106" height=".7"/>
<text class="q c" x="58.3" y="195.7">Get the app to view and take</text><text class="q c" x="58.3" y="204">these jobs.</text><rect class="btn" x="19.3" y="208.3" width="83.3" height="14.7" rx="1"/><text class="b c" x="61" y="217.6">Download App</text></g>

<g id="ab-testing"><text x="1130" y="806" style="font-size:9.8px;font-weight:700">AB TESTING</text></g>

<g id="connectors">
<path class="cn" d="M127,614H163"/>
<path class="cn" d="M285,610.3H321"/>
<path class="cn" d="M443,610.3H476"/>
<path class="cn" d="M598,614H634"/>
<path class="cn" d="M737,680H775Q779,680 779,676V458Q779,454 783,454H792"/>
<path class="cn" d="M739,702H827Q831,702 831,698V692Q831,685 838,685H845"/>
<path class="cn" d="M895,460L950,361"/>
<path class="cn" d="M886,541.7H934Q938,541.7 938,537.7V465.7Q938,461.7 942,461.7H1103Q1107,461.7 1107,457.7V411Q1107,407 1111,407H1122"/>
<path class="cn" d="M1043,392H1093Q1097,392 1097,388V97Q1097,93 1101,93H1116"/>
<path class="cn" d="M1052,323V513Q1052,517 1049,517Q1046,517 1046,521V575Q1046,579 1042,579H920Q916,579 916,583V602"/>
<path class="cn" d="M1238,404H1269"/>
<path class="cn" d="M1391,399.7H1418"/>
<path class="cn" d="M1540.5,398H1571.5"/>
<path class="cn" d="M1693.5,396H1720"/>
<path class="cn" d="M1842,393.7H1875"/>
<path class="cn" d="M1999,394.7H2026"/>
<path class="cn" d="M2148,393.7H2173"/>
<path class="cn" d="M966.5,723.3H1048Q1052,723.3 1052,727.3V795.7Q1052,799.7 1056,799.7H1127.7"/>
<path class="cn" d="M1189,801H1399Q1403,801 1403,797V736.7Q1403,732.7 1407,732.7H1461"/>
<path class="cn" d="M1337.5,801Q1340.5,801 1340.5,805V995Q1340.5,999 1344.5,999H1461"/>
</g>
</svg>
